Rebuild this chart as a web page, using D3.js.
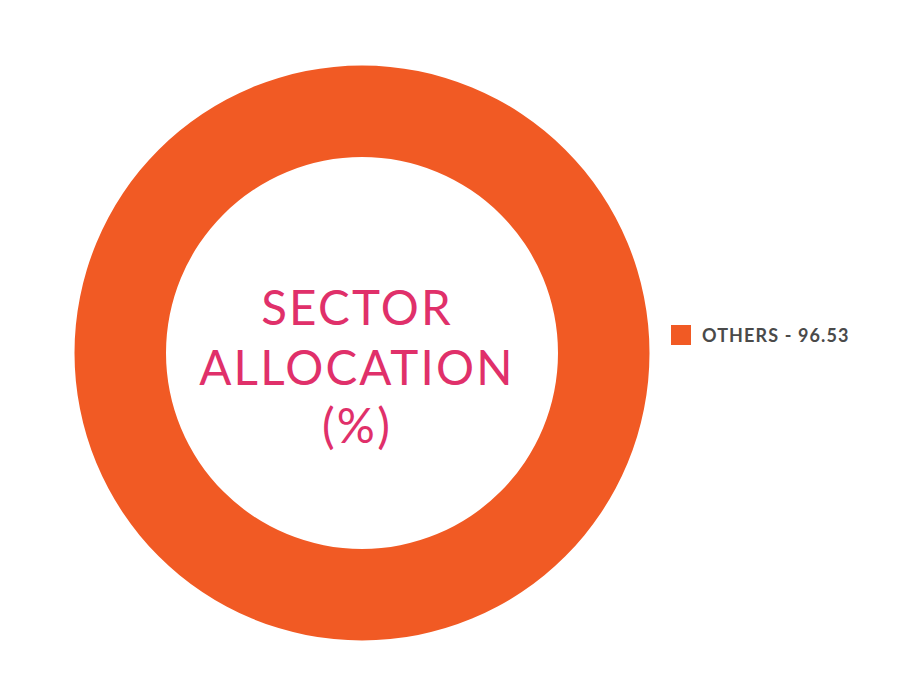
<!DOCTYPE html>
<html>
<head>
<meta charset="utf-8">
<script src="https://cdn.jsdelivr.net/npm/d3@7"></script>
<style>
  html, body { margin: 0; padding: 0; background: #ffffff; }
  svg { display: block; }
</style>
</head>
<body>
<script>
const categories = ["OTHERS"];
const values = [96.53];
const colors = ["#F15A24"];
const titleLines = ["SECTOR", "ALLOCATION", "(%)"];

const width = 897, height = 682;
const cx = 362, cy = 353, outerR = 287.5, innerR = 196;

const svg = d3.select("body").append("svg")
  .attr("width", width).attr("height", height);

const pie = d3.pie().sort(null).value(d => d.value);
const arc = d3.arc().innerRadius(innerR).outerRadius(outerR);
const data = categories.map((c, i) => ({ name: c, value: values[i], color: colors[i] }));

const g = svg.append("g").attr("transform", `translate(${cx},${cy})`);
g.selectAll("path").data(pie(data)).join("path")
  .attr("d", arc)
  .attr("fill", d => d.data.color);

const title = svg.append("g").attr("transform", "translate(357,0)");
const baselines = [325, 384.5, 443];
title.selectAll("text").data(titleLines).join("text")
  .attr("x", 0)
  .attr("y", (d, i) => baselines[i])
  .attr("text-anchor", "middle")
  .attr("font-family", "Lato, sans-serif")
  .attr("font-size", 47.5)
  .attr("letter-spacing", 2.2)
  .attr("fill", "#E0306A")
  .text(d => d);

const legend = svg.append("g").attr("transform", "translate(671,325)");
const items = legend.selectAll("g").data(data).join("g")
  .attr("transform", (d, i) => `translate(0,${i * 30})`);
items.append("rect")
  .attr("width", 20).attr("height", 20)
  .attr("fill", d => d.color);
items.append("text")
  .attr("x", 31).attr("y", 17.3)
  .attr("font-family", "Lato, sans-serif")
  .attr("font-weight", "bold")
  .attr("font-size", 18)
  .attr("letter-spacing", 1.1)
  .attr("fill", "#4A4A4A")
  .text(d => `${d.name} - ${d.value.toFixed(2)}`);
</script>
</body>
</html>
